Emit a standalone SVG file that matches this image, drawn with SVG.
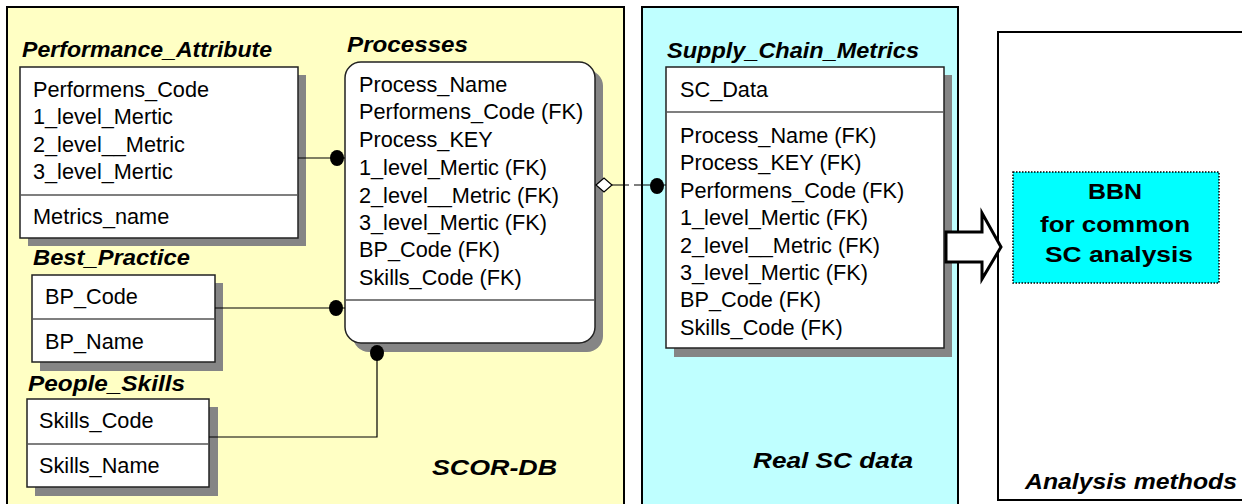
<svg xmlns="http://www.w3.org/2000/svg" width="1242" height="504" viewBox="0 0 1242 504">
<style>
text{font-family:"Liberation Sans",Arial,sans-serif;fill:#000}
.b{font-size:21.7px}
.t{font-size:22px;font-style:italic;font-weight:bold}
.bbn{font-size:22px;font-weight:bold}
.box{fill:#fff;stroke:#222;stroke-width:1.5}
.sh{fill:#858585}
.div{stroke:#555;stroke-width:1.5}
.ln{fill:none;stroke:#000;stroke-width:1.2}
.dot{fill:#000}
</style>
<rect width="1242" height="504" fill="#fff"/>
<g id="panel-scor">
<rect x="7" y="7" width="617" height="510" fill="#ffffc4" stroke="#000" stroke-width="2"/>
<text class="t" x="432" y="475" textLength="125" lengthAdjust="spacingAndGlyphs">SCOR-DB</text>
</g>
<g id="panel-real">
<rect x="642" y="7" width="316" height="510" fill="#bfffff" stroke="#000" stroke-width="2"/>
<text class="t" x="753" y="468" textLength="160" lengthAdjust="spacingAndGlyphs">Real SC data</text>
</g>
<g id="panel-analysis">
<rect x="998" y="32" width="262" height="468" fill="#fff" stroke="#000" stroke-width="2"/>
<text class="t" x="1025" y="489" textLength="212" lengthAdjust="spacingAndGlyphs">Analysis methods</text>
</g>
<g id="performance-attribute">
<text class="t" x="22" y="57" textLength="250" lengthAdjust="spacingAndGlyphs">Performance_Attribute</text>
<rect class="sh" x="28" y="75" width="278" height="171"/>
<rect class="box" x="20" y="67" width="278" height="171"/>
<line class="div" x1="20" y1="195" x2="298" y2="195"/>
<text class="b" x="33" y="97">Performens_Code</text>
<text class="b" x="33" y="124">1_level_Mertic</text>
<text class="b" x="33" y="152">2_level__Metric</text>
<text class="b" x="33" y="179">3_level_Mertic</text>
<text class="b" x="33" y="224">Metrics_name</text>
</g>
<g id="processes">
<text class="t" x="347" y="52" textLength="121" lengthAdjust="spacingAndGlyphs">Processes</text>
<rect class="sh" x="353" y="70" width="250" height="282" rx="16"/>
<rect class="box" x="345" y="62" width="250" height="281" rx="16"/>
<line class="div" x1="345" y1="300" x2="595" y2="300"/>
<text class="b" x="359" y="92">Process_Name</text>
<text class="b" x="359" y="119">Performens_Code (FK)</text>
<text class="b" x="359" y="147">Process_KEY</text>
<text class="b" x="359" y="175">1_level_Mertic (FK)</text>
<text class="b" x="359" y="203">2_level__Metric (FK)</text>
<text class="b" x="359" y="230">3_level_Mertic (FK)</text>
<text class="b" x="359" y="257">BP_Code (FK)</text>
<text class="b" x="359" y="285">Skills_Code (FK)</text>
</g>
<g id="best-practice">
<text class="t" x="33" y="265" textLength="157" lengthAdjust="spacingAndGlyphs">Best_Practice</text>
<rect class="sh" x="40" y="283" width="183" height="88"/>
<rect class="box" x="32" y="275" width="183" height="87"/>
<line class="div" x1="32" y1="319" x2="215" y2="319"/>
<text class="b" x="45" y="304">BP_Code</text>
<text class="b" x="45" y="349">BP_Name</text>
</g>
<g id="people-skills">
<text class="t" x="28" y="391" textLength="157" lengthAdjust="spacingAndGlyphs">People_Skills</text>
<rect class="sh" x="35" y="407" width="183" height="89"/>
<rect class="box" x="27" y="399" width="182" height="88"/>
<line class="div" x1="27" y1="444" x2="209" y2="444"/>
<text class="b" x="39" y="428">Skills_Code</text>
<text class="b" x="39" y="473">Skills_Name</text>
</g>
<g id="supply-chain-metrics">
<text class="t" x="667" y="58" textLength="252" lengthAdjust="spacingAndGlyphs">Supply_Chain_Metrics</text>
<rect class="sh" x="674" y="75" width="278" height="282"/>
<rect class="box" x="666" y="67" width="278" height="281"/>
<line class="div" x1="666" y1="112" x2="944" y2="112"/>
<text class="b" x="680" y="97">SC_Data</text>
<text class="b" x="680" y="143">Process_Name (FK)</text>
<text class="b" x="680" y="170">Process_KEY (FK)</text>
<text class="b" x="680" y="198">Performens_Code (FK)</text>
<text class="b" x="680" y="225">1_level_Mertic (FK)</text>
<text class="b" x="680" y="253">2_level__Metric (FK)</text>
<text class="b" x="680" y="280">3_level_Mertic (FK)</text>
<text class="b" x="680" y="307">BP_Code (FK)</text>
<text class="b" x="680" y="335">Skills_Code (FK)</text>
</g>
<g id="bbn">
<rect x="1013" y="172" width="206" height="111" fill="#00ffff" stroke="#000" stroke-width="1.5" stroke-dasharray="1.5 1.5"/>
<text class="bbn" x="1115" y="199" text-anchor="middle" textLength="54" lengthAdjust="spacingAndGlyphs">BBN</text>
<text class="bbn" x="1115" y="232" text-anchor="middle" textLength="150" lengthAdjust="spacingAndGlyphs">for common</text>
<text class="bbn" x="1119" y="262" text-anchor="middle" textLength="148" lengthAdjust="spacingAndGlyphs">SC analysis</text>
</g>
<g id="connectors">
<line class="ln" x1="298" y1="158" x2="345" y2="158"/>
<ellipse class="dot" cx="337" cy="158" rx="7" ry="8"/>
<line class="ln" x1="215" y1="308" x2="345" y2="308"/>
<ellipse class="dot" cx="336" cy="308" rx="7" ry="8"/>
<polyline class="ln" points="209,437 377,437 377,353"/>
<ellipse class="dot" cx="377" cy="353" rx="7" ry="8"/>
<line class="ln" x1="612" y1="185" x2="666" y2="185" stroke-dasharray="17 5"/>
<polygon points="596,185 604,178 612,185 604,192" fill="#fff" stroke="#000" stroke-width="1.2"/>
<ellipse class="dot" cx="657" cy="186" rx="7" ry="8"/>
<polygon points="946,232 982,232 982,213 1001,247 982,279 982,262 946,262" fill="#fff" stroke="#000" stroke-width="3" stroke-linejoin="miter"/>
</g>
</svg>
